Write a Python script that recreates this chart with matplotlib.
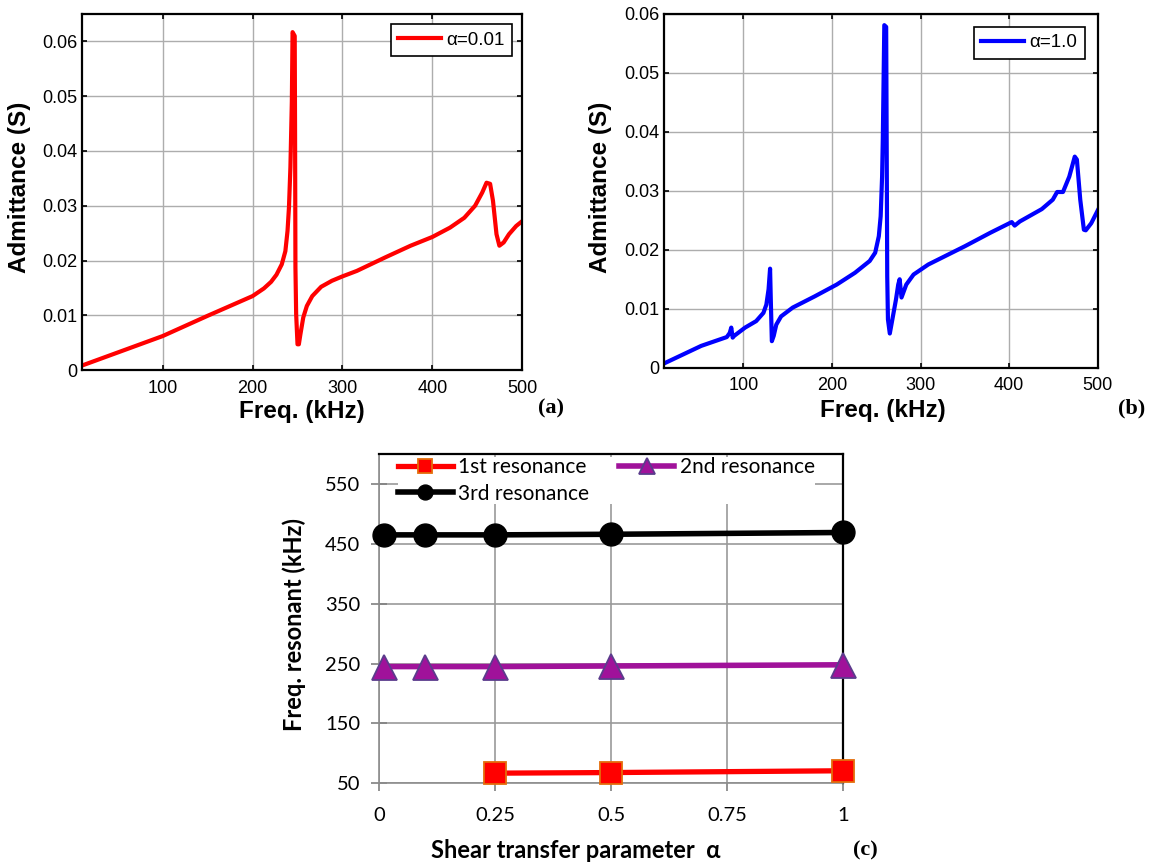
import numpy as np
import matplotlib
matplotlib.use("Agg")
import matplotlib.pyplot as plt
from matplotlib.ticker import FuncFormatter

plt.rcParams["font.family"] = ["Liberation Sans", "DejaVu Sans"]

# (a) admittance, alpha = 0.01
freq_a = [10, 50, 100, 150, 200, 212.6, 220.6, 226.6, 232.5, 236.5, 238.9, 240.5,
          242.1, 243.7, 244.5, 246.9, 247.3, 247.7, 248.5, 250, 251.5, 253.2, 256.4,
          260.4, 266.4, 276.3, 288.3, 300, 316, 348, 375.8, 400, 419.6, 435.5,
          447.5, 455.4, 460.2, 464.2, 467.4, 471.3, 474.5, 479.3, 485.2, 493.2, 500]
adm_a = [0.0008, 0.0032, 0.0062, 0.0099, 0.0135, 0.0149, 0.0161, 0.0174, 0.0193,
         0.0217, 0.0254, 0.0297, 0.0370, 0.0490, 0.0617, 0.0610, 0.0430, 0.0187,
         0.0102, 0.0047, 0.0047, 0.0065, 0.0096, 0.0117, 0.0135, 0.0152, 0.0163,
         0.0171, 0.0181, 0.0206, 0.0227, 0.0243, 0.0260, 0.0278, 0.0300, 0.0324,
         0.0342, 0.0340, 0.0309, 0.0248, 0.0227, 0.0233, 0.0248, 0.0263, 0.0272]

# (b) admittance, alpha = 1.0
freq_b = [10.3, 52.5, 81.4, 84.7, 86.4, 88, 89.7, 102, 114.5, 122.7, 126, 128.5,
          130.2, 131, 132.2, 134.3, 137.2, 142.6, 155.8, 180.6, 205.4, 226, 242.6,
          248.8, 252.9, 255, 256.6, 257.4, 259.1, 261.2, 262, 262.4, 263.2, 265.3,
          268.2, 272.3, 274.8, 276.4, 278.5, 283.9, 292.1, 308.7, 350, 378.9, 402.9,
          406.2, 412, 436.8, 449.2, 454.1, 460.7, 467.8, 474, 476.4, 480.2, 484.3,
          486.4, 492.6, 500]
adm_b = [0.0007, 0.0037, 0.0052, 0.0059, 0.0068, 0.0051, 0.0054, 0.0068, 0.0079,
         0.0093, 0.0107, 0.0133, 0.0168, 0.0116, 0.0045, 0.0054, 0.0073, 0.0087,
         0.0102, 0.0121, 0.0141, 0.0161, 0.0181, 0.0195, 0.0223, 0.0257, 0.0324,
         0.0387, 0.0581, 0.0578, 0.0302, 0.0155, 0.0082, 0.0058, 0.0082, 0.0116,
         0.0141, 0.0150, 0.0119, 0.0141, 0.0158, 0.0175, 0.0206, 0.0229, 0.0247,
         0.0241, 0.0248, 0.0269, 0.0285, 0.0298, 0.0298, 0.0324, 0.0358, 0.0353,
         0.0285, 0.0234, 0.0233, 0.0245, 0.0267]

# (c) resonant frequencies vs shear transfer parameter
alpha = [0.01, 0.1, 0.25, 0.5, 1.0]
res1 = [np.nan, np.nan, 67, 68, 71]
res2 = [245, 245, 245, 246, 248]
res3 = [465, 465, 465, 466, 469]

fig = plt.figure(figsize=(11.54, 8.67), dpi=100)
serif = "Liberation Serif"
lato = "Lato"

yfmt = FuncFormatter(lambda v, p: "0" if abs(v) < 1e-9 else "%.2f" % v)


def matlab_panel(ax, f, y, color, label, ymax, ylab_xy, xlab_xy, legpad):
    ax.plot(f, y, color=color, lw=3, label=label)
    ax.set_xlim(10, 500)
    ax.set_ylim(0, ymax)
    ax.set_xticks([100, 200, 300, 400, 500])
    ax.set_yticks(np.arange(0, 0.061, 0.01))
    ax.yaxis.set_major_formatter(yfmt)
    ax.grid(True, color="0.68", lw=1.0)
    ax.set_axisbelow(True)
    ax.tick_params(direction="in", top=True, right=True, labelsize=13, length=3.5,
                   width=1.2)
    ax.tick_params(axis="x", pad=7)
    ax.tick_params(axis="y", pad=3)
    for s in ax.spines.values():
        s.set_linewidth(1.6)
    ax.set_xlabel("Freq. (kHz)", fontsize=17.5, fontweight="bold", va="center")
    ax.set_ylabel("Admittance (S)", fontsize=17.5, fontweight="bold", va="center")
    ax.xaxis.set_label_coords(*xlab_xy)
    ax.yaxis.set_label_coords(*ylab_xy)
    leg = ax.legend(loc="upper right", fancybox=False, edgecolor="black",
                    framealpha=1, prop={"size": 13.5}, handlelength=2.28,
                    handletextpad=0.3, borderpad=0.4, borderaxespad=legpad)
    leg.get_frame().set_linewidth(1.2)


# ---- (a)
ax1 = fig.add_axes([0.0708, 0.5732, 0.3818, 0.4106])
matlab_panel(ax1, freq_a, adm_a, "red", "α=0.01", 0.065,
             (-0.142, 0.513), (0.5, -0.1152), 0.53)
fig.text(0.4775, 0.5294, "(a)", fontsize=16, fontweight="bold", family=serif,
         ha="center", va="center")

# ---- (b)
ax2 = fig.add_axes([0.5750, 0.5759, 0.3763, 0.4080])
matlab_panel(ax2, freq_b, adm_b, "blue", "α=1.0", 0.06,
             (-0.146, 0.509), (0.505, -0.122), 0.68)
fig.text(0.981, 0.5294, "(b)", fontsize=16, fontweight="bold", family=serif,
         ha="center", va="center")

# ---- (c)
ax3 = fig.add_axes([0.3284, 0.0965, 0.4023, 0.3798])
l1, = ax3.plot(alpha, res1, color="red", lw=3.8, marker="s", ms=16, mfc="red",
               mec="#E46C0A", mew=1.3, clip_on=False, zorder=3)
l2, = ax3.plot(alpha, res2, color="#A0129A", lw=4, marker="^", ms=18, mfc="#A0129A",
               mec="#5B3C8C", mew=1.3, clip_on=False, zorder=3)
l3, = ax3.plot(alpha, res3, color="black", lw=4, marker="o", ms=16.5, mfc="black",
               mec="black", clip_on=False, zorder=3)
ax3.set_xlim(0, 1)
ax3.set_ylim(50, 600)
ax3.set_xticks([0, 0.25, 0.5, 0.75, 1])
ax3.set_xticklabels(["0", "0.25", "0.5", "0.75", "1"])
ax3.set_yticks([50, 150, 250, 350, 450, 550])
ax3.grid(True, color="0.6", lw=1.2)
ax3.set_axisbelow(True)
ax3.tick_params(labelsize=14.5, color="0.5", width=1.2, labelfontfamily=lato)
ax3.tick_params(axis="y", direction="inout", length=11, pad=8)
ax3.tick_params(axis="x", direction="out", length=6, pad=11)
for k in ["top", "right"]:
    ax3.spines[k].set_linewidth(1.6)
    ax3.spines[k].set_color("black")
for k in ["bottom", "left"]:
    ax3.spines[k].set_linewidth(1.2)
    ax3.spines[k].set_color("0.55")
ax3.set_xlabel("Shear transfer parameter  α", fontsize=17, fontweight="bold",
               family=lato, va="center")
ax3.xaxis.set_label_coords(0.424, -0.2026)
ax3.set_ylabel("Freq. resonant (kHz)", fontsize=17, fontweight="bold", family=lato,
               va="center")
ax3.yaxis.set_label_coords(-0.182, 0.481)
leg = ax3.legend([l1, l3, l2], ["1st resonance", "3rd resonance", "2nd resonance"],
                 ncol=2, loc="upper left", bbox_to_anchor=(0.040, 0.99),
                 frameon=True, framealpha=1, edgecolor="none", fancybox=False,
                 prop={"family": lato, "size": 15}, markerscale=0.65,
                 handlelength=2.65, handletextpad=0.25, columnspacing=1.45,
                 labelspacing=0.3, borderpad=0.0, borderaxespad=0.0)
fig.text(0.7496, 0.0196, "(c)", fontsize=16, fontweight="bold", family=serif,
         ha="center", va="center")

fig.savefig("out.png", dpi=100)
